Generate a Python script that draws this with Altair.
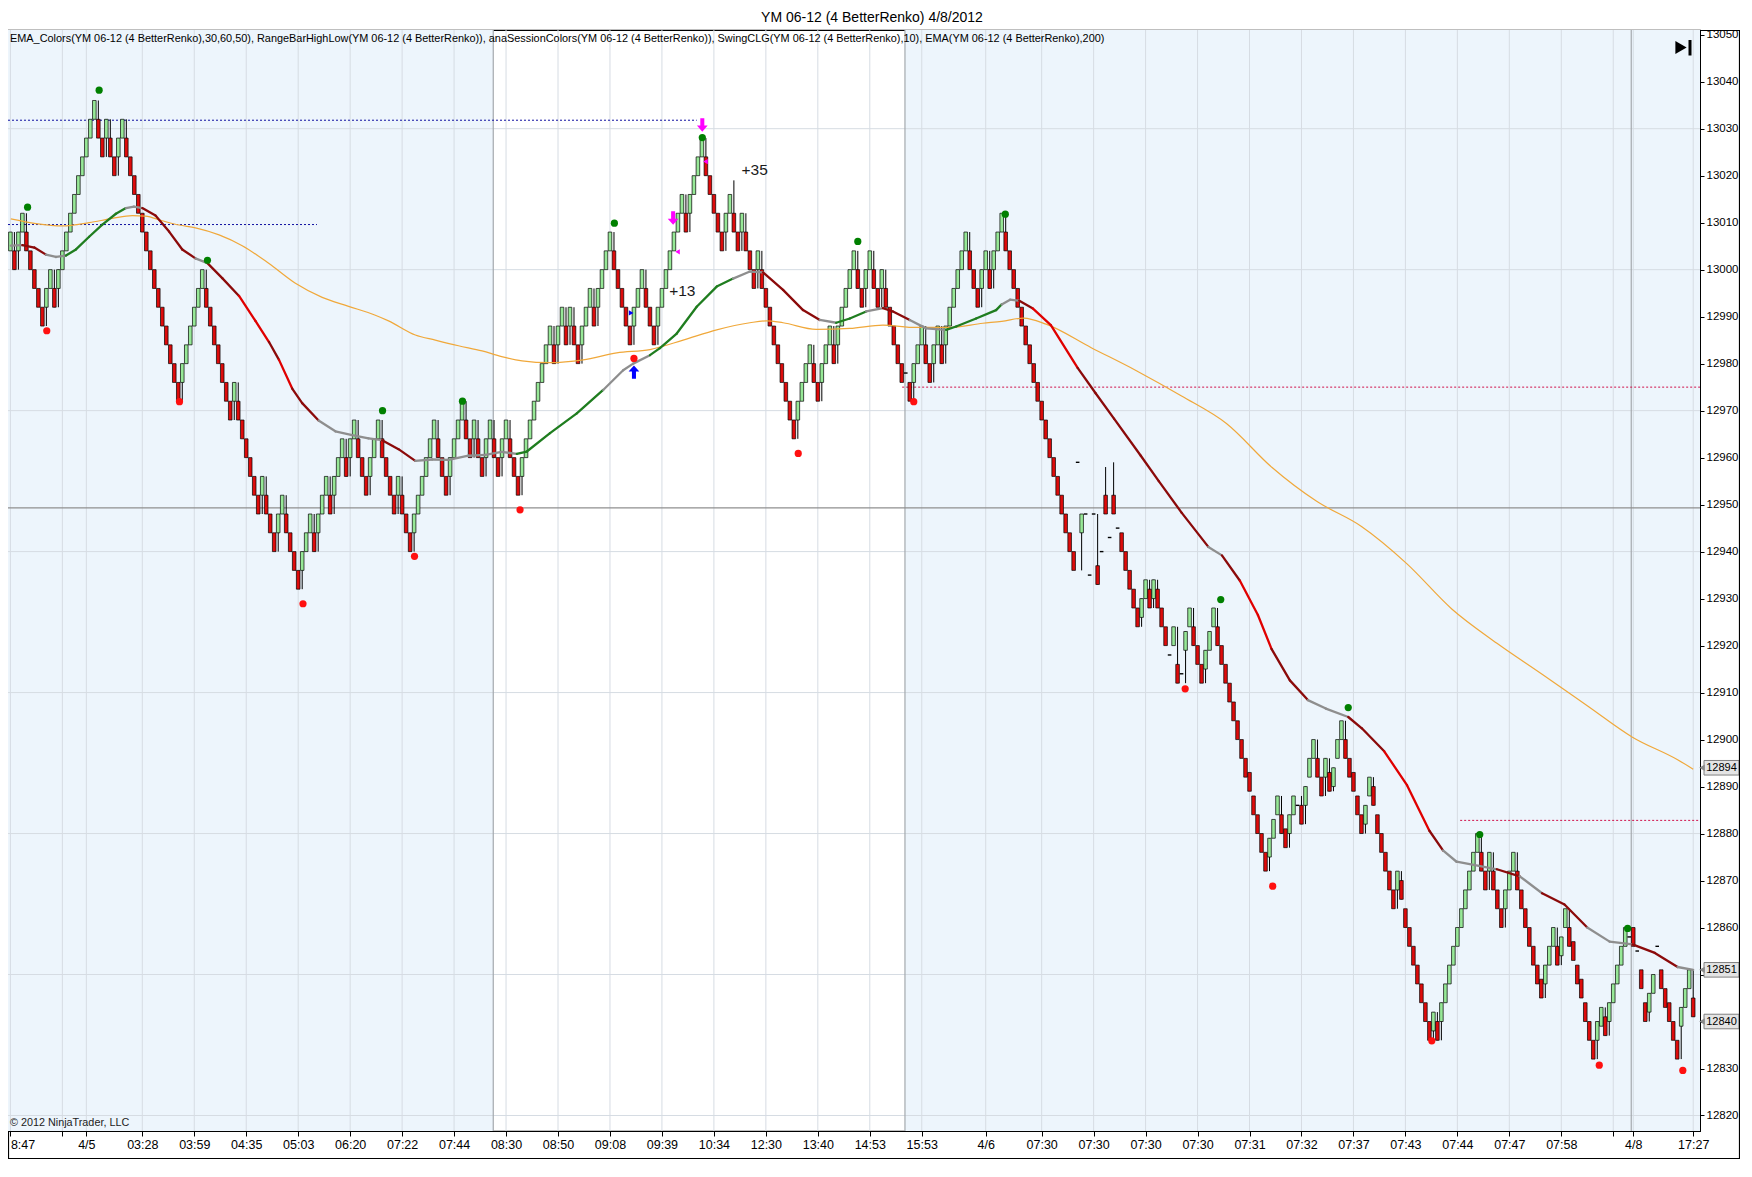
import altair as alt
import pandas as pd

W, H = 1692, 1101
XMIN, XMAX = -0.6, 422.7
YMIN, YMAX = 12816.7, 13051.0
FONT = "Liberation Sans, Arial, sans-serif"
NFONT = "Liberation Sans Narrow, Arial Narrow, Liberation Sans, Arial, sans-serif"

# ---------------- data ----------------
closes = [
    13008, 13000, 13008, 13012, 13004, 13000, 12996, 12992, 12988, 12996,
    13000, 12992, 13000, 13004, 13008, 13012, 13016, 13020, 13024, 13028,
    13032, 13036, 13028, 13024, 13032, 13024, 13020, 13028, 13032, 13024,
    13020, 13016, 13012, 13008, 13004, 13000, 12996, 12992, 12988, 12984,
    12980, 12976, 12972, 12980, 12984, 12988, 12992, 12996, 13000, 12992,
    12988, 12984, 12980, 12976, 12972, 12968, 12976, 12968, 12964, 12960,
    12956, 12952, 12948, 12956, 12948, 12944, 12940, 12948, 12952, 12944,
    12940, 12936, 12932, 12940, 12944, 12948, 12940, 12948, 12952, 12956,
    12948, 12956, 12960, 12964, 12956, 12964, 12968, 12960, 12956, 12952,
    12960, 12964, 12968, 12960, 12956, 12952, 12948, 12956, 12948, 12944,
    12940, 12948, 12952, 12956, 12960, 12964, 12968, 12960, 12956, 12952,
    12960, 12964, 12968, 12972, 12964, 12960, 12968, 12960, 12956, 12964,
    12968, 12960, 12956, 12964, 12968, 12960, 12956, 12952,
    12960, 12964, 12968, 12972, 12976, 12980, 12984, 12988, 12980, 12988,
    12992, 12984, 12992, 12984, 12980, 12988, 12992, 12996, 12988, 12996,
    13000, 13004, 13008, 13000, 12996, 12992, 12988, 12984, 12992, 12996,
    13000, 12992, 12988, 12984, 12992, 12996, 13000, 13004, 13008, 13012,
    13016, 13008, 13016, 13020, 13024, 13028, 13020, 13016, 13012, 13008,
    13004, 13012, 13016, 13008, 13004, 13012, 13004, 13000, 12996, 13004,
    12996, 12992, 12988, 12984, 12980, 12976, 12972, 12968, 12964, 12972,
    12976, 12980, 12984, 12976, 12972, 12980, 12984, 12988, 12980, 12988,
    12992, 12996, 13000, 13004, 12996, 12992, 13000, 13004, 12996, 12992,
    13000, 12992, 12988, 12984, 12980, 12976, 12978, 12972, 12980, 12984,
    12988, 12980, 12976, 12984, 12988, 12980, 12988, 12992, 12996, 13000,
    13004, 13008, 13000, 12996, 12992, 13000, 13004, 12996, 13004, 13008, 13012,
    13004, 13000, 12996, 12992, 12988, 12984, 12980, 12976, 12972, 12968,
    12964, 12960, 12956, 12952, 12948, 12944, 12940, 12936,
    12959, 12948, 12948, 12935, 12948, 12933, 12940, 12948, 12943, 12948,
    12945, 12940, 12936, 12932, 12928, 12924, 12930, 12934, 12928, 12934,
    12928, 12924, 12920, 12918, 12924, 12912, 12914, 12923, 12928, 12920,
    12916, 12912, 12919, 12923, 12928, 12920, 12916, 12912, 12908, 12904,
    12900, 12896, 12892, 12889, 12884, 12880, 12876, 12872, 12879, 12883,
    12888, 12880, 12877, 12884, 12888, 12886, 12882, 12890, 12896, 12900,
    12892, 12888, 12896, 12889, 12894, 12900, 12904, 12896, 12892, 12889,
    12884, 12880, 12886, 12892, 12886, 12880, 12876, 12872, 12868, 12864,
    12872, 12866, 12860, 12856, 12852, 12848, 12844, 12840, 12836, 12842,
    12836, 12844, 12848, 12852, 12856, 12860, 12864, 12868, 12872, 12876,
    12880, 12872, 12868, 12876, 12868, 12864, 12860, 12868, 12872, 12876,
    12868, 12864, 12860, 12856, 12852, 12848, 12845, 12852, 12856, 12860,
    12852, 12858, 12864, 12856, 12853, 12848, 12845, 12840, 12836, 12832,
    12840, 12843, 12837, 12844, 12848, 12852, 12856, 12860, 12858, 12856,
    12855, 12847, 12840, 12846, 12850, 12856, 12847, 12843, 12840, 12836,
    12832, 12843, 12847, 12851, 12841,
]

# U = up brick, D = down brick, - = doji dash
dirs = "".join([
    "U", "D", "UU", "DDDDD", "UU", "D", "UUUUUUUUUU", "DD", "U", "DD", "UU",
    "DDDDDDDDDDDDDD", "UUUUUU", "DDDDDDD", "U", "DDDDDD", "U", "DDD", "UU",
    "DDDD", "UUU", "D", "UUU", "D", "UUU", "D", "UU", "DDD", "UUU", "DDDD",
    "U", "DDD", "UUUUUU", "DDD", "UUUU", "DD", "U", "DD", "UU", "DD", "UU", "DDD",
    "UUUUUUUU", "D", "UU", "D", "U", "DD", "UUU", "D", "UUUU", "DDDDD", "UUU",
    "DDD", "UUUUUUU", "D", "UUUU", "DDDDD", "UU", "DD", "U", "DDD", "U",
    "DDDDDDDDD", "UUUU", "DD", "UUU", "D", "UUUUU", "DD", "UU", "DD", "U",
    "DDDDD", "-", "D", "UUU", "DD", "UU", "D", "UUUUUU", "DDD", "UU", "D", "UUU",
    "DDDDDDDDDDDDDDDDDD",
    "-U---D-D-D-", "DDDDD", "UU", "D", "U", "DDD", "-", "U", "D", "-", "UU",
    "DDD", "UUU", "D", "DDDDDDDDDDDD", "UUU", "DD", "UU", "-", "D", "UUU", "DD",
    "U", "D", "UUU", "DDDDD", "UU", "DDDDDD", "U", "DDDDDDDD", "U", "D",
    "UUUUUUUUUU", "DD", "U", "DDD", "UUU", "DDDDDDD", "UUU", "D", "UU",
    "DDDDDDD", "UU", "D", "UUUUU", "-", "D", "-", "DD", "UU", "-", "DDDDD",
    "UUU", "D",
])

# a few long wicks seen on the picture
wick_idx = [181, 268, 274, 276]
wick_lo = [13008, 12937, 12948, 12948]
wick_hi = [13019, 12948, 12958, 12959]

# EMA_Colors line, read at sample bars (k grey, g green, d dark red, r red)
ema_b = [0.1, 3.0, 6.0, 8.9, 11.4, 13.9, 16.4, 19.7, 23.0, 26.4, 28.9, 30.9, 33.0, 36.3, 39.7,
         43.0, 46.3, 49.3, 53.0, 57.2, 61.3, 64.7, 67.2, 70.5, 73.0, 77.1, 81.3, 85.5, 89.6, 93.0,
         97.1, 101.3, 105.5, 109.6, 114.6, 118.8, 122.9, 126.7, 129.2, 135.0, 141.7, 148.3, 153.3,
         155.8, 160.0, 162.5, 166.7, 171.7, 176.7, 180.8, 185.0, 188.3, 193.3, 198.3, 202.5, 206.6,
         210.0, 214.1, 218.3, 220.8, 225.0, 229.1, 234.1, 236.6, 241.6, 246.6, 248.0, 250.1, 252.4,
         255.7, 260.3, 267.0, 271.5, 276.1, 282.8, 287.3, 293.0, 299.7, 303.1, 307.6, 312.1, 315.5,
         320.1, 324.6, 329.1, 334.7, 338.1, 343.7, 349.4, 355.0, 358.4, 361.8, 367.4, 371.9, 377.6,
         383.2, 388.8, 394.5, 400.1, 405.8, 411.4, 417.1, 421.0]
ema_v = [13005.1, 13005.2, 13004.7, 13003.2, 13002.7, 13003.0, 13004.3, 13007.0, 13009.6, 13011.9,
         13013.1, 13013.4, 13013.1, 13011.5, 13008.1, 13004.3, 13002.4, 13001.4, 12998.2, 12994.4,
         12989.1, 12984.6, 12980.8, 12974.7, 12971.6, 12967.9, 12965.6, 12964.8, 12964.1, 12963.7,
         12961.8, 12959.3, 12959.6, 12959.5, 12960.4, 12960.6, 12961.2, 12960.8, 12961.3, 12965.2,
         12969.4, 12974.4, 12978.6, 12980.0, 12981.8, 12983.3, 12986.4, 12992.1, 12996.4, 12998.1,
         12999.6, 12999.4, 12995.7, 12991.4, 12989.3, 12988.7, 12989.6, 12991.1, 12991.8, 12991.1,
         12989.3, 12987.5, 12987.2, 12987.9, 12989.6, 12991.4, 12992.6, 12993.6, 12993.4, 12991.8,
         12988.2, 12979.1, 12973.7, 12968.3, 12960.4, 12955.0, 12948.3, 12941.0, 12939.2, 12933.8,
         12926.5, 12919.3, 12912.6, 12908.4, 12906.6, 12904.8, 12902.4, 12897.5, 12890.3, 12880.6,
         12876.4, 12874.0, 12873.1, 12872.4, 12870.9, 12867.3, 12864.9, 12860.0, 12857.0, 12856.4,
         12854.6, 12851.6, 12851.0]
ema_c = ("kddkkggggg" "kkddddkddr" "rdrddkkkkd" "dkkkkkkggg" "gkkkgggggk"
         "kdddkggkdd" "kkggggkkdr" "rddddddkdr" "rddkkddrrd" "kkkdkddkkd" "dkk")

# EMA(200) line
o_b = [0.1, 6.4, 13.0, 19.7, 25.5, 30.5, 33.8, 38.0, 42.2, 46.3, 52.2, 58.0, 64.7, 71.3, 78.0,
       84.6, 91.3, 94.6, 101.3, 106.3, 112.1, 118.0, 122.9, 128.0, 135.0, 143.3, 151.7, 160.0,
       168.3, 176.7, 185.0, 189.1, 193.3, 201.6, 210.0, 218.3, 226.6, 234.9, 243.3, 248.0, 253.5,
       259.1, 270.4, 281.7, 293.0, 304.3, 315.5, 326.8, 338.1, 349.4, 360.6, 371.9, 383.2, 394.5,
       405.8, 417.1, 421.0]
o_v = [13010.8, 13009.8, 13009.3, 13010.0, 13010.9, 13011.5, 13011.4, 13010.4, 13009.5, 13008.9,
       13007.4, 13005.1, 13001.3, 12997.1, 12994.1, 12992.2, 12990.3, 12989.1, 12986.1, 12985.0,
       12983.8, 12982.7, 12981.5, 12980.6, 12980.2, 12980.8, 12982.3, 12983.0, 12985.0, 12987.2,
       12988.7, 12989.1, 12988.7, 12987.3, 12987.5, 12988.2, 12987.7, 12987.7, 12988.6, 12989.0,
       12989.7, 12988.4, 12983.4, 12978.5, 12973.1, 12967.2, 12958.0, 12950.7, 12945.3, 12937.4,
       12927.8, 12920.5, 12913.9, 12907.2, 12900.5, 12895.7, 12893.7]

# swing points
green_b = [4.3, 22.2, 49.3, 93.1, 113.1, 151.1, 173.1, 212.0, 248.9, 302.8, 334.7, 367.6, 404.6]
green_p = [13013.3, 13038.2, 13002.0, 12970.0, 12972.0, 13009.9, 13028.1, 13006.0, 13011.8,
           12929.8, 12906.8, 12879.8, 12859.8]
red_b = [9.1, 42.3, 73.2, 101.1, 127.5, 156.0, 197.1, 226.0, 293.9, 315.8, 355.6, 397.5, 418.4]
red_p = [12987.0, 12971.9, 12928.9, 12939.0, 12948.9, 12981.1, 12960.9, 12971.9, 12910.8,
         12868.8, 12835.9, 12830.7, 12829.6]

# horizontal drawn lines (start bar, end bar, price)
hl_start = [XMIN, XMIN, 223.1, 362.7]
hl_end = [171.7, 76.7, XMAX, XMAX]
hl_price = [13031.8, 13009.6, 12975.0, 12882.8]
hl_color = ["#1010a0", "#1010a0", "#d0104a", "#d0104a"]
grey_level = 12949.3

# sessions (shaded) and session break lines
sess_start = [XMIN, 223.8]
sess_end = [120.8, XMAX]
sess_lines = [120.8, 223.8, 405.5]

# x axis ticks
tick_b = [0, 13, 19, 33, 46, 59, 72, 85, 98, 111, 124, 137, 150, 163, 176, 189, 202, 215, 228,
          244, 258, 271, 284, 297, 310, 323, 336, 349, 362, 375, 388, 401, 406, 421]
tick_lab = ["8:47", "", "4/5", "03:28", "03:59", "04:35", "05:03", "06:20", "07:22", "07:44",
            "08:30", "08:50", "09:08", "09:39", "10:34", "12:30", "13:40", "14:53", "15:53",
            "4/6", "07:30", "07:30", "07:30", "07:30", "07:31", "07:32", "07:37", "07:43",
            "07:44", "07:47", "07:58", "", "4/8", "17:27"]
hgrid = [12820, 12850, 12880, 12910, 12940, 12970, 13000, 13030]

# arrows / markers / trade labels
arrow_dn_b = [173.1, 165.8]
arrow_dn_p = [13030.8, 13011.0]
arrow_up_b = [156.0]
arrow_up_p = [12978.2]
tri_m_b = [166.9, 173.9]
tri_m_p = [13003.8, 13023.0]
tri_b_b = [155.3]
tri_b_p = [12990.8]
note_b = [164.8, 182.9]
note_p = [12995.4, 13021.2]
note_t = ["+13", "+35"]

price_tags = [12894, 12851, 12840]

if len(closes) != len(dirs):
    raise ValueError(f"closes {len(closes)} vs dirs {len(dirs)}")
if len(ema_b) != len(ema_v) or len(ema_c) != len(ema_b):
    raise ValueError(f"ema {len(ema_b)} {len(ema_v)} {len(ema_c)}")

# ---------------- build tables ----------------
extra = {i: (lo, hi) for i, lo, hi in zip(wick_idx, wick_lo, wick_hi)}
bodies, wicks, dojis = [], [], []
prev_c, prev_d = None, None
for i, (c, d) in enumerate(zip(closes, dirs)):
    if d == "-":
        dojis.append(dict(x1=i - 0.45, x2=i + 0.45, p=c))
        if i in extra:
            wicks.append(dict(b=i, lo=extra[i][0], hi=extra[i][1]))
        continue
    o = c - 4 if d == "U" else c + 4
    lo, hi = min(o, c), max(o, c)
    wlo, whi = lo, hi
    if prev_d is not None and prev_d != d:
        if d == "U":
            wlo = min(wlo, prev_c)
        else:
            whi = max(whi, prev_c)
    if i in extra:
        wlo = min(wlo, extra[i][0])
        whi = max(whi, extra[i][1])
    bodies.append(dict(x1=i - 0.45, x2=i + 0.45, lo=lo, hi=hi,
                       fill="#97e897" if d == "U" else "#de0b0b"))
    if wlo < lo or whi > hi:
        wicks.append(dict(b=i, lo=wlo, hi=whi))
    prev_c, prev_d = c, d

bodies = pd.DataFrame(bodies)
wicks = pd.DataFrame(wicks)
dojis = pd.DataFrame(dojis)

cmap = {"k": "#8e8e8e", "g": "#1f7d1f", "d": "#8b0a0a", "r": "#e00000"}
seg_rows = []
for i in range(len(ema_b) - 1):
    for j in (i, i + 1):
        seg_rows.append(dict(seg=i, b=ema_b[j], v=ema_v[j], col=cmap[ema_c[i]]))
ema_df = pd.DataFrame(seg_rows)
o_df = pd.DataFrame(dict(b=o_b, v=o_v))

expr = " : ".join(f"datum.value == {b} ? '{l}'" for b, l in zip(tick_b, tick_lab)) + " : ''"

xs = alt.Scale(domain=[XMIN, XMAX], nice=False, zero=False)
ys = alt.Scale(domain=[YMIN, YMAX], nice=False, zero=False)
x_axis = alt.Axis(values=tick_b, labelExpr=expr, orient="bottom", grid=False, tickSize=5,
                  labelPadding=2, labelFontSize=12.5, labelFont=NFONT, labelColor="black",
                  domainColor="black", tickColor="black", labelOverlap=False, labelFlush=False,
                  labelAlign={"condition": {"test": "datum.value == 0", "value": "left"},
                              "value": "center"},
                  title=None, labelAngle=0)
y_axis = alt.Axis(values=list(range(12820, 13051, 10)), orient="right", grid=False, tickSize=4,
                  labelPadding=2, labelFontSize=11.5, labelFont=FONT, labelColor="black",
                  domainColor="black", tickColor="black", format="d", title=None,
                  labelExpr="datum.value == 12850 || datum.value == 12840 ? '' : datum.label",
                  labelOverlap=False, labelFlush=False)


def X(f):
    return alt.X(f, type="quantitative", scale=xs, axis=x_axis)


def Y(f):
    return alt.Y(f, type="quantitative", scale=ys, axis=y_axis)


one = pd.DataFrame({"a": [0]})
layers = []

# session shading
layers.append(alt.Chart(pd.DataFrame(dict(s=sess_start, e=sess_end))).mark_rect(
    color="#edf5fc").encode(x=X("s"), x2="e", y=alt.value(0), y2=alt.value(H)))
# grids
layers.append(alt.Chart(pd.DataFrame(dict(p=hgrid))).mark_rule(
    color="#d6dce3", strokeWidth=1).encode(y=Y("p"), x=alt.value(0), x2=alt.value(W)))
layers.append(alt.Chart(pd.DataFrame(dict(b=tick_b))).mark_rule(
    color="#d6dce3", strokeWidth=1).encode(x=X("b"), y=alt.value(0), y2=alt.value(H)))
layers.append(alt.Chart(pd.DataFrame(dict(b=sess_lines))).mark_rule(
    color="#a4a9ae", strokeWidth=1.2).encode(x=X("b"), y=alt.value(0), y2=alt.value(H)))
# grey level line
layers.append(alt.Chart(pd.DataFrame(dict(p=[grey_level]))).mark_rule(
    color="#8f8f8f", strokeWidth=1.3).encode(y=Y("p"), x=alt.value(0), x2=alt.value(W)))
# dotted levels
layers.append(alt.Chart(pd.DataFrame(dict(s=hl_start, e=hl_end, p=hl_price, c=hl_color))).mark_rule(
    strokeWidth=1, strokeDash=[2, 2]).encode(
    x=X("s"), x2="e", y=Y("p"), color=alt.Color("c:N", scale=None)))
# wicks
layers.append(alt.Chart(wicks).mark_rule(color="black", strokeWidth=1).encode(
    x=X("b"), y=Y("lo"), y2="hi"))
# bodies
layers.append(alt.Chart(bodies).mark_rect(stroke="black", strokeWidth=0.7).encode(
    x=X("x1"), x2="x2", y=Y("lo"), y2="hi", fill=alt.Color("fill:N", scale=None)))
# doji dashes
layers.append(alt.Chart(dojis).mark_rule(color="black", strokeWidth=1.4).encode(
    x=X("x1"), x2="x2", y=Y("p")))
# EMA 200
layers.append(alt.Chart(o_df).mark_line(color="#f0a83a", strokeWidth=1.2,
                                        interpolate="monotone").encode(x=X("b"), y=Y("v")))
# EMA colors
layers.append(alt.Chart(ema_df).mark_line(strokeWidth=2.3, strokeCap="round").encode(
    x=X("b"), y=Y("v"), detail="seg:N", color=alt.Color("col:N", scale=None)))
# swing dots
layers.append(alt.Chart(pd.DataFrame(dict(b=green_b, p=green_p))).mark_point(
    filled=True, shape="circle", size=52, color="#008000", opacity=1).encode(x=X("b"), y=Y("p")))
layers.append(alt.Chart(pd.DataFrame(dict(b=red_b, p=red_p))).mark_point(
    filled=True, shape="circle", size=52, color="#ff1010", opacity=1).encode(x=X("b"), y=Y("p")))
# arrows
DN = "M-0.3,-1L0.3,-1L0.3,0.1L0.8,0.1L0,1L-0.8,0.1L-0.3,0.1Z"
UP = "M-0.3,1L0.3,1L0.3,-0.1L0.8,-0.1L0,-1L-0.8,-0.1L-0.3,-0.1Z"
layers.append(alt.Chart(pd.DataFrame(dict(b=arrow_dn_b, p=arrow_dn_p))).mark_point(
    filled=True, shape=DN, size=180, color="#ff00ff", opacity=1).encode(x=X("b"), y=Y("p")))
layers.append(alt.Chart(pd.DataFrame(dict(b=arrow_up_b, p=arrow_up_p))).mark_point(
    filled=True, shape=UP, size=180, color="#0000ff", opacity=1).encode(x=X("b"), y=Y("p")))
layers.append(alt.Chart(pd.DataFrame(dict(b=tri_m_b, p=tri_m_p))).mark_point(
    filled=True, shape="triangle-left", size=28, color="#ff00ff", opacity=1).encode(x=X("b"), y=Y("p")))
layers.append(alt.Chart(pd.DataFrame(dict(b=tri_b_b, p=tri_b_p))).mark_point(
    filled=True, shape="triangle-right", size=28, color="#0000ff", opacity=1).encode(x=X("b"), y=Y("p")))
# trade notes
layers.append(alt.Chart(pd.DataFrame(dict(b=note_b, p=note_p, t=note_t))).mark_text(
    align="left", baseline="middle", fontSize=15.5, font=FONT, color="#1a1a1a").encode(
    x=X("b"), y=Y("p"), text="t:N"))

# price tags on the axis
tag_df = pd.DataFrame(dict(p=price_tags, lo=[v - 1.55 for v in price_tags],
                           hi=[v + 1.55 for v in price_tags], t=[str(v) for v in price_tags]))
layers.append(alt.Chart(tag_df).mark_rect(fill="#e4e4e4", stroke="#808080", strokeWidth=1).encode(
    y=Y("lo"), y2="hi", x=alt.value(W + 4), x2=alt.value(W + 39)))
layers.append(alt.Chart(tag_df).mark_point(filled=True, shape="triangle-left", size=40,
                                           color="#8a8a8a", opacity=1).encode(
    y=Y("p"), x=alt.value(W + 2)))
layers.append(alt.Chart(tag_df).mark_text(fontSize=11, font=FONT, color="black").encode(
    y=Y("p"), x=alt.value(W + 21.5), text="t:N"))

# texts
ind_txt = ("EMA_Colors(YM 06-12 (4 BetterRenko),30,60,50), RangeBarHighLow(YM 06-12 (4 BetterRenko)), "
           "anaSessionColors(YM 06-12 (4 BetterRenko)), SwingCLG(YM 06-12 (4 BetterRenko),10), "
           "EMA(YM 06-12 (4 BetterRenko),200)")
layers.append(alt.Chart(one).mark_text(text=ind_txt, align="left", baseline="middle",
                                       fontSize=10.9, font=FONT, color="black").encode(
    x=alt.value(2), y=alt.value(9)))
layers.append(alt.Chart(one).mark_text(text="\u00a9 2012 NinjaTrader, LLC", align="left",
                                       baseline="middle", fontSize=10.8, font=FONT,
                                       color="#222222").encode(x=alt.value(2), y=alt.value(H - 8)))
layers.append(alt.Chart(one).mark_text(text="YM 06-12 (4 BetterRenko)  4/8/2012", align="center",
                                       baseline="middle", fontSize=14, font=FONT,
                                       color="black").encode(x=alt.value(864), y=alt.value(-12.5)))
# play-to-end icon
layers.append(alt.Chart(one).mark_point(filled=True, shape="triangle-right", size=170,
                                        color="black", opacity=1).encode(
    x=alt.value(1673), y=alt.value(17.5)))
layers.append(alt.Chart(one).mark_rect(color="black").encode(
    x=alt.value(1680.5), x2=alt.value(1683.5), y=alt.value(10), y2=alt.value(25.5)))

# outer frame
frame = pd.DataFrame(dict(x1=[W, W + 39.5, 0, 0.5], x2=[W + 40, W + 39.5, W + 40, 0.5],
                          y1=[0.5, 0, H + 27.5, H], y2=[0.5, H + 28, H + 27.5, H + 28]))
for _, r in frame.iterrows():
    layers.append(alt.Chart(one).mark_rule(color="black", strokeWidth=1.2).encode(
        x=alt.value(float(r.x1)), x2=alt.value(float(r.x2)),
        y=alt.value(float(r.y1)), y2=alt.value(float(r.y2))))

chart = alt.layer(*layers).properties(
    width=W, height=H,
    autosize=alt.AutoSizeParams(type="none"),
    padding={"left": 0, "top": 22, "right": 40, "bottom": 28},
    background="white",
).configure_view(stroke="black", strokeWidth=1.2)

chart.save("out.html", embed_options={"renderer": "svg", "actions": False})
